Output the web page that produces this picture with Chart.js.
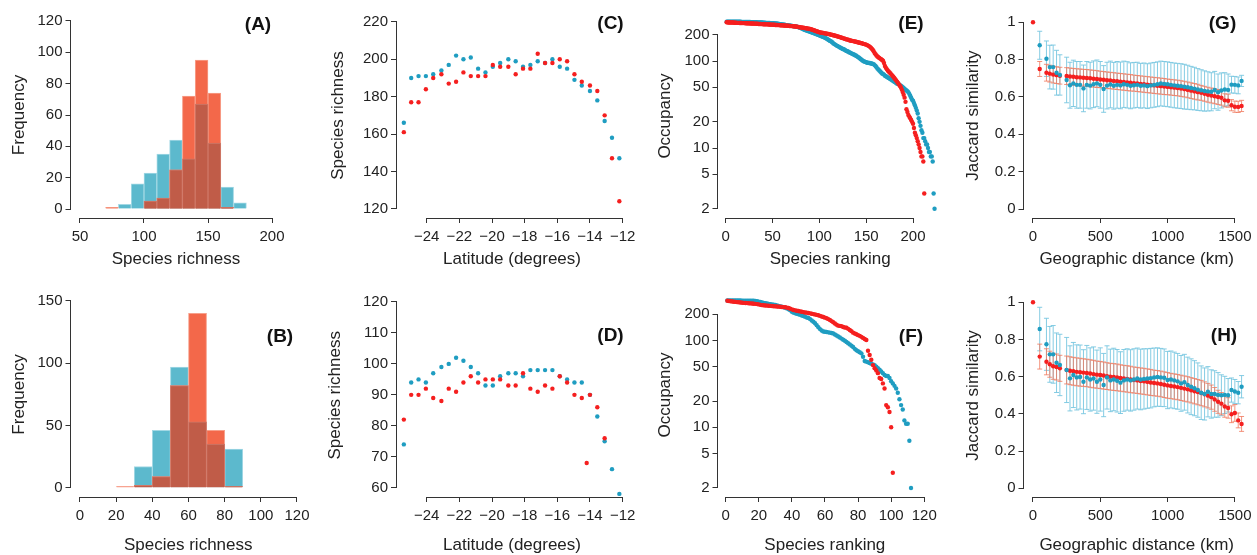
<!DOCTYPE html>
<html>
<head>
<meta charset="utf-8">
<script src="https://cdn.jsdelivr.net/npm/chart.js@4.4.1/dist/chart.umd.min.js"></script>
<style>
  html, body { margin: 0; padding: 0; background: #fff; overflow: hidden; width: 1257px; height: 555px; }
  canvas { position: absolute; left: 0; top: 0; pointer-events: none; }
</style>
</head>
<body>
<canvas id="pA" width="1257" height="600"></canvas>
<canvas id="pB" width="1257" height="600"></canvas>
<canvas id="pC" width="1257" height="600"></canvas>
<canvas id="pD" width="1257" height="600"></canvas>
<canvas id="pE" width="1257" height="600"></canvas>
<canvas id="pF" width="1257" height="600"></canvas>
<canvas id="pG" width="1257" height="600"></canvas>
<canvas id="pH" width="1257" height="600"></canvas>
<script>
// ---- (A) / (B): species richness histograms, 10-unit bins (bin centres)
const binsA = [75, 85, 95, 105, 115, 125, 135, 145, 155, 165, 175];
const freqBlueA = [0, 3, 16, 23, 35, 44, 32, 67, 42, 14, 4];
const freqRedA  = [1, 0, 0, 5, 7, 25, 72, 95, 74, 1, 0];
const binsB = [25, 35, 45, 55, 65, 75, 85];
const freqBlueB = [0, 17, 46, 97, 53, 35, 31];
const freqRedB  = [1, 2, 9, 82, 140, 46, 1];

// ---- (C) / (D): richness along latitude
const latitudes = [-25.4, -24.95, -24.5, -24.05, -23.6, -23.1, -22.65, -22.2, -21.75, -21.3,
  -20.85, -20.4, -19.95, -19.5, -19.0, -18.55, -18.1, -17.65, -17.2, -16.75,
  -16.3, -15.85, -15.4, -14.95, -14.5, -14.0, -13.55, -13.1, -12.65, -12.2];
const richBlueC = [166, 190, 191, 191, 192, 194, 197, 202, 200, 201, 195, 193, 196, 198, 200,
  199, 196, 197, 199, 198, 200, 196, 195, 189, 186, 183, 178, 167, 158, 147];
const richRedC = [161, 177, 177, 184, 190, 192, 187, 188, 193, 191, 191, 191, 197, 196, 196,
  192, 195, 195, 203, 198, 198, 200, 199, 192, 188, 186, 183, 170, 147, 124];
const richBlueD = [74, 94, 95, 94, 97, 99, 100, 102, 101, 99, 97, 93, 93, 96, 97,
  97, 96, 98, 98, 98, 98, 96, 95, 94, 94, 90, 83, 75, 66, 58];
const latRedD = [-25.4, -24.95, -24.5, -24.05, -23.6, -23.1, -22.65, -22.2, -21.75, -21.3,
  -20.85, -20.4, -19.95, -19.5, -19.0, -18.55, -18.1, -17.65, -17.2, -16.75,
  -16.3, -15.85, -15.4, -14.95, -14.5, -14.2, -14.0, -13.55, -13.1];
const richRedD = [82, 90, 90, 92, 89, 88, 92, 91, 94, 96, 94, 95, 95, 95, 93,
  93, 97, 92, 91, 93, 92, 96, 94, 90, 89, 68, 90, 86, 76];

// ---- (E) / (F): occupancy by species rank (rank = position + 1)
const occBlueE = [
  285,285,285,285,285,285,285,285,285,284, 284,284,284,284,284,284,283,283,283,283,
  283,283,282,282,282,282,281,281,281,280, 280,280,280,279,279,279,278,278,278,277,
  277,277,276,276,276,275,275,274,274,273, 273,272,272,271,270,269,268,267,266,265,
  264,263,262,261,260,259,258,257,256,255, 254,253,252,251,250,249,247,245,243,241,
  239,236,233,230,228,226,224,222,220,218, 216,214,212,210,208,206,204,202,200,198,
  196,194,192,190,188,186,183,181,178,175, 172,170,167,164,160,157,155,152,150,148,
  146,144,142,140,138,137,135,133,131,130, 128,126,125,123,122,120,119,117,116,114,
  112,110,108,106,104,102,100,99,98,97, 96,96,95,95,94,94,93,92,90,88,
  85,82,80,78,76,74,72,71,70,68, 67,66,65,64,63,62,61,60,59,58,
  57,56,55,55,54,53,52,51,50,49, 48,47,46,45,44,42,40,38,36,35,
  33,31,29,27,25,22,20,18,16,15, 13,13,12,11,11,10,9,9,8,8,
  7,3,2];
const occRedE = [
  280,280,279,279,279,278,278,278,277,277, 277,276,276,276,275,275,275,274,274,274,
  273,273,273,272,272,272,271,271,271,270, 270,270,269,269,268,268,268,267,267,266,
  266,266,265,265,265,264,264,263,263,263, 262,262,261,261,261,260,260,259,259,258,
  258,257,257,256,256,255,255,254,254,253, 253,252,251,251,250,249,248,247,246,245,
  244,243,242,241,240,239,238,237,236,235, 233,231,229,227,225,223,221,219,217,215,
  214,213,212,211,210,209,208,207,206,205, 204,202,201,200,199,197,196,195,193,192,
  190,189,187,186,184,183,181,180,178,177, 176,174,173,172,171,170,169,168,167,166,
  165,164,163,162,161,160,158,157,156,155, 153,151,149,146,143,139,135,130,124,120,
  116,113,111,109,107,105,103,101,95,88, 84,81,78,76,74,72,70,68,66,64,
  62,60,58,56,54,52,50,47,44,41, 38,34,28,26,24,23,22,21,20,19,
  17,15,14,13,12,11,10,9,8,8, 7,3];
const occBlueF = [
  288,288,288,288,288,288,288,288,288,287, 287,287,287,287,287,286,286,285,283,280,
  277,274,271,268,266,264,262,260,258,256, 253,250,247,244,241,238,234,229,222,214,
  209,206,203,200,197,194,191,187,184,181, 176,170,164,158,150,142,135,130,127,126,
  125,124,123,122,120,117,114,111,108,105, 102,99,96,93,90,87,84,80,77,75,
  73,71,65,58,57,56,55,54,53,52, 50,48,46,44,42,40,39,39,37,34,
  32,30,28,25,21,18,16,12,11,11, 7,2];
const occRedF = [
  287,285,283,281,279,278,276,275,273,272, 271,270,269,268,267,266,265,264,262,260,
  257,255,254,253,252,251,250,249,248,247, 246,245,244,243,242,241,239,236,232,228,
  224,222,220,218,216,214,212,210,209,207, 205,203,201,199,197,195,192,189,186,183,
  180,176,172,167,162,157,152,148,147,146, 143,141,140,136,132,128,123,120,118,115,
  113,110,107,104,101,76,68,60,52,48, 45,42,37,36,32,28,18,17,15,10,
  3];

// ---- (G) / (H): Jaccard similarity vs geographic distance (km), mean and +/- error
const distances = [0, 50, 100, 125, 150, 175, 200,
  250, 275, 300, 325, 350, 375, 400, 425, 450, 475, 500, 525, 550, 575, 600, 625, 650, 675, 700, 725,
  750, 775, 800, 825, 850, 875, 900, 925, 950, 975, 1000, 1025, 1050, 1075, 1100, 1125, 1150, 1175,
  1200, 1225, 1250, 1275, 1300, 1325, 1350, 1375, 1400, 1425, 1450, 1475, 1500, 1525, 1550];
const jacRedG = [1.0, 0.75, 0.73, 0.725, 0.72, 0.717, 0.714,
  0.712, 0.710, 0.708, 0.706, 0.705, 0.703, 0.702, 0.700, 0.698, 0.696,
  0.694, 0.692, 0.690, 0.688, 0.686, 0.684, 0.682, 0.680, 0.678, 0.676,
  0.674, 0.672, 0.670, 0.668, 0.666, 0.664, 0.662, 0.660, 0.658, 0.656,
  0.654, 0.652, 0.650, 0.648, 0.645, 0.642, 0.638, 0.634, 0.630, 0.626,
  0.622, 0.617, 0.612, 0.608, 0.604, 0.600, 0.596, 0.582, 0.580, 0.556,
  0.548, 0.547, 0.552];
const errRedG = [null, 0.04, 0.045, 0.045, 0.045, 0.045, 0.045,
  0.045, 0.045, 0.045, 0.045, 0.045, 0.045, 0.045, 0.045, 0.045, 0.045,
  0.044, 0.044, 0.044, 0.044, 0.044, 0.044, 0.044, 0.044, 0.044, 0.044,
  0.043, 0.043, 0.043, 0.043, 0.043, 0.043, 0.043, 0.043, 0.043, 0.043,
  0.042, 0.042, 0.042, 0.042, 0.042, 0.042, 0.042, 0.042, 0.042, 0.042,
  0.04, 0.04, 0.04, 0.04, 0.04, 0.04, 0.04, 0.035, 0.035, 0.03,
  0.03, 0.03, 0.03];
const jacBlueG = [null, 0.877, 0.805, 0.76, 0.76, 0.73, 0.718,
  0.691, 0.663, 0.673, 0.665, 0.665, 0.646, 0.665, 0.661, 0.668, 0.673,
  0.665, 0.643, 0.661, 0.667, 0.660, 0.665, 0.662, 0.668, 0.665, 0.660,
  0.663, 0.665, 0.660, 0.662, 0.658, 0.662, 0.665, 0.668, 0.672, 0.670,
  0.668, 0.665, 0.662, 0.660, 0.658, 0.655, 0.652, 0.648, 0.645, 0.640,
  0.636, 0.632, 0.630, 0.628, 0.637, 0.626, 0.635, 0.640, 0.638, 0.666,
  0.665, 0.662, 0.686];
const errBlueG = [null, 0.075, 0.095, 0.117, 0.118, 0.12, 0.108,
  0.122, 0.123, 0.124, 0.125, 0.125, 0.125, 0.125, 0.125, 0.125, 0.125,
  0.125, 0.125, 0.125, 0.125, 0.125, 0.125, 0.125, 0.124, 0.124, 0.123,
  0.122, 0.121, 0.12, 0.12, 0.12, 0.12, 0.12, 0.12, 0.12, 0.12,
  0.12, 0.12, 0.12, 0.12, 0.12, 0.12, 0.118, 0.116, 0.114, 0.112,
  0.11, 0.108, 0.105, 0.102, 0.1, 0.097, 0.094, 0.09, 0.085, 0.045,
  0.045, 0.045, 0.03];
const jacRedH = [1.0, 0.708, 0.68, 0.667, 0.656, 0.652, 0.645,
  0.636, 0.632, 0.629, 0.626, 0.624, 0.622, 0.620, 0.617, 0.614, 0.611,
  0.609, 0.606, 0.603, 0.600, 0.598, 0.596, 0.593, 0.590, 0.588, 0.585,
  0.582, 0.580, 0.577, 0.575, 0.572, 0.569, 0.566, 0.564, 0.561, 0.557,
  0.553, 0.550, 0.547, 0.544, 0.540, 0.536, 0.532, 0.527, 0.522, 0.517,
  0.512, 0.505, 0.498, 0.490, 0.478, 0.465, 0.455, 0.440, 0.432, 0.398,
  0.405, 0.365, 0.346];
const errRedH = [null, 0.067, 0.07, 0.07, 0.07, 0.07, 0.07,
  0.075, 0.075, 0.075, 0.075, 0.075, 0.074, 0.074, 0.074, 0.074, 0.073,
  0.073, 0.073, 0.072, 0.072, 0.072, 0.072, 0.071, 0.071, 0.071, 0.071,
  0.070, 0.070, 0.070, 0.070, 0.070, 0.070, 0.069, 0.069, 0.069, 0.069,
  0.069, 0.068, 0.068, 0.068, 0.068, 0.068, 0.068, 0.068, 0.068, 0.068,
  0.068, 0.067, 0.066, 0.065, 0.064, 0.062, 0.060, 0.058, 0.055, 0.045,
  0.045, 0.040, 0.040];
const jacBlueH = [null, 0.856, 0.774, 0.72, 0.72, 0.675, 0.663,
  0.636, 0.591, 0.609, 0.596, 0.598, 0.573, 0.596, 0.585, 0.590, 0.573,
  0.585, 0.555, 0.596, 0.580, 0.585, 0.578, 0.568, 0.580, 0.585, 0.580,
  0.585, 0.590, 0.585, 0.588, 0.590, 0.592, 0.596, 0.598, 0.596, 0.594,
  0.582, 0.585, 0.580, 0.575, 0.564, 0.570, 0.555, 0.546, 0.538, 0.528,
  0.514, 0.507, 0.519, 0.507, 0.507, 0.502, 0.500, 0.502, 0.500, 0.528,
  0.520, 0.514, 0.546];
const errBlueH = [null, 0.117, 0.14, 0.15, 0.155, 0.16, 0.165,
  0.175, 0.175, 0.175, 0.175, 0.172, 0.172, 0.172, 0.17, 0.17, 0.17,
  0.17, 0.17, 0.17, 0.168, 0.168, 0.168, 0.166, 0.166, 0.165, 0.165,
  0.165, 0.164, 0.163, 0.162, 0.16, 0.16, 0.158, 0.157, 0.156, 0.155,
  0.154, 0.153, 0.152, 0.15, 0.15, 0.15, 0.15, 0.15, 0.148, 0.146,
  0.144, 0.14, 0.135, 0.13, 0.125, 0.12, 0.11, 0.1, 0.09, 0.065,
  0.065, 0.06, 0.06];

// ---- tick labels
const ticksRichA = [50, 100, 150, 200];
const ticksFreqA = [0, 20, 40, 60, 80, 100, 120];
const ticksRichB = [0, 20, 40, 60, 80, 100, 120];
const ticksFreqB = [0, 50, 100, 150];
const ticksLat = [-24, -22, -20, -18, -16, -14, -12];
const ticksRichC = [120, 140, 160, 180, 200, 220];
const ticksRichD = [60, 70, 80, 90, 100, 110, 120];
const ticksRankE = [0, 50, 100, 150, 200];
const ticksRankF = [0, 20, 40, 60, 80, 100, 120];
const ticksOcc = [2, 5, 10, 20, 50, 100, 200];
const ticksDist = [0, 500, 1000, 1500];
const ticksJac = [0, 0.2, 0.4, 0.6, 0.8, 1];

// ---- styling
const FONT = "'Liberation Sans', Arial, Helvetica, sans-serif";
const INK = '#222';
const AXIS = '#333';
const HIST_BLUE = '#5cb9cd', HIST_RED = '#f3684a', HIST_BOTH = '#c05c48';
const DOT_BLUE = '#1f9dc1', DOT_RED = '#f51f1f';
const ERR_BLUE = 'rgba(120,198,224,0.9)', ERR_RED = 'rgba(240,120,92,0.8)';

const fmt = v => (v < 0 ? '\u2212' + Math.abs(v) : String(v));

function axis(o) {
  return {
    type: o.type || 'linear',
    min: o.min,
    max: o.max,
    bounds: 'data',
    offset: false,
    afterBuildTicks: s => { s.ticks = o.ticks.map(v => ({ value: v })); },
    afterFit: s => { if (s.isHorizontal()) s.height = o.size; else s.width = o.size; },
    grid: { display: true, drawOnChartArea: false, drawTicks: true, tickLength: 5,
            color: AXIS, lineWidth: 1, offset: false },
    border: { display: false },
    ticks: { autoSkip: false, maxRotation: 0, minRotation: 0, padding: o.pad,
             color: INK, font: { family: FONT, size: 15 }, callback: v => fmt(v) },
    title: { display: true, text: o.title, color: INK, padding: 0,
             font: { family: FONT, size: 17 } }
  };
}

// R-style axis lines (first tick to last tick) + panel letter
const rAxes = {
  id: 'rAxes',
  afterDraw(chart, args, opts) {
    const { ctx, chartArea: a, scales: { x, y } } = chart;
    const al = p => Math.round(p - 0.5) + 0.5;
    const xs = x.ticks.map(t => x.getPixelForValue(t.value));
    const ys = y.ticks.map(t => y.getPixelForValue(t.value));
    ctx.save();
    ctx.strokeStyle = AXIS;
    ctx.lineWidth = 1;
    ctx.beginPath();
    ctx.moveTo(al(Math.min(...xs)) - 0.5, al(a.bottom));
    ctx.lineTo(al(Math.max(...xs)) + 0.5, al(a.bottom));
    ctx.moveTo(al(a.left), al(Math.min(...ys)) - 0.5);
    ctx.lineTo(al(a.left), al(Math.max(...ys)) + 0.5);
    ctx.stroke();
    ctx.fillStyle = '#111';
    ctx.font = 'bold 19px ' + FONT;
    ctx.textAlign = 'center';
    ctx.textBaseline = 'middle';
    ctx.fillText(opts.tag, opts.at[0], opts.at[1]);
    ctx.restore();
  }
};

// vertical error bars with caps, under the points
const errorBars = {
  id: 'errorBars',
  beforeDatasetsDraw(chart) {
    const { ctx, scales: { x, y } } = chart;
    ctx.save();
    ctx.lineWidth = 1;
    chart.data.datasets.forEach(ds => {
      if (!ds.errors) return;
      ctx.strokeStyle = ds.errorColor;
      ds.data.forEach((p, k) => {
        const e = ds.errors[k];
        if (p.y == null || e == null) return;
        const px = x.getPixelForValue(p.x);
        const lo = y.getPixelForValue(p.y - e), hi = y.getPixelForValue(p.y + e);
        ctx.beginPath();
        ctx.moveTo(px, lo); ctx.lineTo(px, hi);
        ctx.moveTo(px - 2.5, lo); ctx.lineTo(px + 2.5, lo);
        ctx.moveTo(px - 2.5, hi); ctx.lineTo(px + 2.5, hi);
        ctx.stroke();
      });
    });
    ctx.restore();
  }
};

function panel(id, p) {
  const [left, top, right, bottom] = p.area;
  return new Chart(document.getElementById(id), {
    type: p.type,
    data: { datasets: p.datasets },
    options: {
      responsive: false,
      animation: false,
      events: [],
      layout: { autoPadding: false,
                padding: { left: left - p.yW, top: top, right: 1257 - right, bottom: 600 - bottom - p.xH } },
      plugins: { legend: { display: false }, tooltip: { enabled: false },
                 rAxes: { tag: p.tag, at: p.tagAt } },
      scales: {
        x: axis(Object.assign({ size: p.xH, pad: 5 }, p.x)),
        y: axis(Object.assign({ size: p.yW, pad: 3 }, p.y))
      }
    },
    plugins: [errorBars, rAxes]
  });
}

function histSets(bins, blue, red) {
  const both = blue.map((v, i) => Math.min(v, red[i]));
  const bar = (vals, bg, bc) => ({
    data: bins.map((x, i) => ({ x, y: vals[i] })),
    backgroundColor: bg, borderColor: bc, borderWidth: 1,
    grouped: false, barPercentage: 1, categoryPercentage: 1
  });
  // first dataset is drawn on top
  return [bar(both, HIST_BOTH, '#cf7868'), bar(red, HIST_RED, '#f7a08b'), bar(blue, HIST_BLUE, '#a3d8e4')];
}

function dots(xs, ys, color, r, extra) {
  return Object.assign({
    data: xs.map((x, i) => ({ x, y: ys[i] })),
    backgroundColor: color, borderWidth: 0, pointRadius: r, pointHoverRadius: r
  }, extra || {});
}
const ranks = arr => arr.map((v, i) => i + 1);

panel('pA', {
  type: 'bar', area: [70.5, 12, 281.5, 218], yW: 61.7, xH: 51.7, tag: '(A)', tagAt: [258, 25],
  x: { min: 42.58, max: 207.42, ticks: ticksRichA, title: 'Species richness' },
  y: { min: -5.74, max: 125.74, ticks: ticksFreqA, title: 'Frequency' },
  datasets: histSets(binsA, freqBlueA, freqRedA)
});
panel('pB', {
  type: 'bar', area: [70.5, 292, 306, 497], yW: 61.7, xH: 58.2, tag: '(B)', tagAt: [280, 337],
  x: { min: -5.25, max: 124.98, ticks: ticksRichB, title: 'Species richness' },
  y: { min: -7.47, max: 157.23, ticks: ticksFreqB, title: 'Frequency' },
  datasets: histSets(binsB, freqBlueB, freqRedB)
});
panel('pC', {
  type: 'scatter', area: [396, 13, 628, 218], yW: 67.7, xH: 51.7, tag: '(C)', tagAt: [610.5, 24],
  x: { min: -25.88, max: -11.67, ticks: ticksLat, title: 'Latitude (degrees)' },
  y: { min: 115.03, max: 224.8, ticks: ticksRichC, title: 'Species richness' },
  datasets: [dots(latitudes, richRedC, DOT_RED, 2.2), dots(latitudes, richBlueC, DOT_BLUE, 2.2)]
});
panel('pD', {
  type: 'scatter', area: [396, 293.7, 628, 497], yW: 71.2, xH: 58.2, tag: '(D)', tagAt: [610.5, 336],
  x: { min: -25.88, max: -11.67, ticks: ticksLat, title: 'Latitude (degrees)' },
  y: { min: 57.0, max: 122.68, ticks: ticksRichD, title: 'Species richness' },
  datasets: [dots(latRedD, richRedD, DOT_RED, 2.2), dots(latitudes, richBlueD, DOT_BLUE, 2.2)]
});
panel('pE', {
  type: 'scatter', area: [717.5, 14.2, 942.9, 218], yW: 62.7, xH: 51.7, tag: '(E)', tagAt: [911, 24],
  x: { min: -8.76, max: 231.9, ticks: ticksRankE, title: 'Species ranking' },
  y: { type: 'logarithmic', min: 1.564, max: 347, ticks: ticksOcc, title: 'Occupancy' },
  datasets: [dots(ranks(occRedE), occRedE, DOT_RED, 2.2), dots(ranks(occBlueE), occBlueE, DOT_BLUE, 2.2)]
});
panel('pF', {
  type: 'scatter', area: [717.5, 293, 932.2, 497], yW: 62.7, xH: 58.2, tag: '(F)', tagAt: [911, 337],
  x: { min: -4.95, max: 124.8, ticks: ticksRankF, title: 'Species ranking' },
  y: { type: 'logarithmic', min: 1.575, max: 351.8, ticks: ticksOcc, title: 'Occupancy' },
  datasets: [dots(ranks(occRedF), occRedF, DOT_RED, 2.2), dots(ranks(occBlueF), occBlueF, DOT_BLUE, 2.2)]
});
panel('pG', {
  type: 'scatter', area: [1023.5, 13.3, 1250.1, 218], yW: 60.7, xH: 51.7, tag: '(G)', tagAt: [1222.5, 24],
  x: { min: -70.5, max: 1612, ticks: ticksDist, title: 'Geographic distance (km)' },
  y: { min: -0.0482, max: 1.0482, ticks: ticksJac, title: 'Jaccard similarity' },
  datasets: [
    dots(distances, jacBlueG, DOT_BLUE, 2.2, { errors: errBlueG, errorColor: ERR_BLUE }),
    dots(distances, jacRedG, DOT_RED, 2.2, { errors: errRedG, errorColor: ERR_RED })
  ]
});
panel('pH', {
  type: 'scatter', area: [1023.5, 293.9, 1250.1, 497], yW: 60.7, xH: 58.2, tag: '(H)', tagAt: [1224, 336],
  x: { min: -70.5, max: 1612, ticks: ticksDist, title: 'Geographic distance (km)' },
  y: { min: -0.0468, max: 1.045, ticks: ticksJac, title: 'Jaccard similarity' },
  datasets: [
    dots(distances, jacBlueH, DOT_BLUE, 2.2, { errors: errBlueH, errorColor: ERR_BLUE }),
    dots(distances, jacRedH, DOT_RED, 2.2, { errors: errRedH, errorColor: ERR_RED })
  ]
});
</script>
</body>
</html>
